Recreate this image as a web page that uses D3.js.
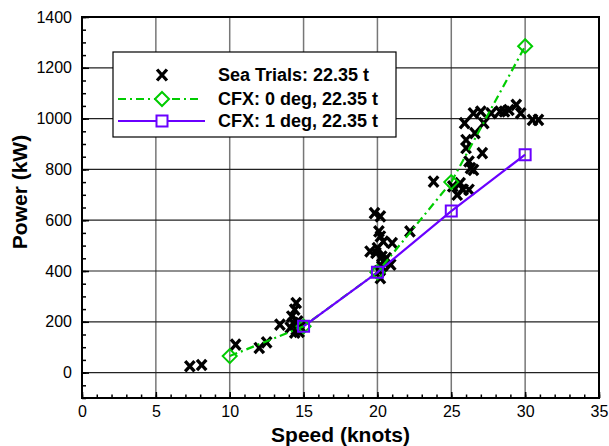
<!DOCTYPE html>
<html><head><meta charset="utf-8">
<script src="https://cdn.jsdelivr.net/npm/d3@7"></script>
<style>body{margin:0;background:#fff}svg{display:block;font-family:"Liberation Sans",Arial,sans-serif}</style>
</head><body><svg id="c" width="609" height="446"></svg>
<script>
const seaSpeed = [7.3,8.1,10.4,12.0,12.5,13.4,14.5,14.4,14.2,14.3,14.1,14.4,14.5,14.6,14.8,14.7,
  19.8,20.2,20.1,20.2,20.4,21.0,19.5,19.9,20.3,20.6,22.2,20.9,20.3,20.2,20.4,20.0,20.1,
  23.8,25.1,25.6,25.8,26.2,25.4,26.3,26.5,26.2,27.1,26.0,26.0,26.6,25.9,26.5,27.0,27.2,27.7,28.3,28.6,28.9,29.4,29.7,30.5,30.9];
const seaPower = [25,30,110,97,119,189,274,248,221,196,177,157,169,202,180,160,
  628,615,556,536,516,510,477,471,457,451,556,425,418,372,438,490,400,
  752,733,746,720,720,700,805,798,831,864,884,916,943,982,1021,1028,982,1021,1028,1028,1034,1054,1021,995,995];
const cfx0Speed = [10,15,20,25,30];
const cfx0Power = [65,182,395,750,1285];
const cfx1Speed = [15,20,25,30];
const cfx1Power = [182,395,636,858];
const xTicks = [0,5,10,15,20,25,30,35];
const yTicks = [0,200,400,600,800,1000,1200,1400];
const legendLabels = ["Sea Trials: 22.35 t","CFX: 0 deg, 22.35 t","CFX: 1 deg, 22.35 t"];

const svg = d3.select("#c");
const L=82,R=599,T=17,B=398;
const x = d3.scaleLinear().domain([0,35]).range([L,R]);
const y = d3.scaleLinear().domain([-100,1400]).range([B,T]);
const green="#00cc00", purple="#6a00ff";

// grid
svg.append("g").selectAll("line").data(xTicks.filter(v=>v>0&&v<35)).join("line")
  .attr("x1",d=>x(d)).attr("x2",d=>x(d)).attr("y1",T).attr("y2",B)
  .attr("stroke","#777").attr("stroke-width",1.5);
svg.append("g").selectAll("line").data(yTicks.filter(v=>v<1400)).join("line")
  .attr("x1",L).attr("x2",R).attr("y1",d=>y(d)).attr("y2",d=>y(d))
  .attr("stroke","#222").attr("stroke-width",1.2);

// axes
const xAxis = d3.axisBottom(x).tickValues(xTicks).tickSize(-6).tickPadding(8).tickFormat(d3.format("d"));
const xMinor = d3.axisBottom(x).tickValues(d3.range(0,36,1)).tickSize(-3.5).tickFormat("");
const yAxis = d3.axisLeft(y).tickValues(yTicks).tickSize(-7).tickPadding(10).tickFormat(d3.format("d"));
const yMinor = d3.axisLeft(y).tickValues(d3.range(-100,1401,50)).tickSize(-4).tickFormat("");
function style(g){g.select(".domain").remove();g.selectAll("line").attr("stroke","#000").attr("stroke-width",1.5);
  g.selectAll("text").attr("font-size",16).attr("fill","#000").attr("font-family","Liberation Sans, Arial, sans-serif");}
svg.append("g").attr("transform",`translate(0,${B})`).call(xMinor).call(style);
svg.append("g").attr("transform",`translate(0,${B})`).call(xAxis).call(style);
svg.append("g").attr("transform",`translate(${L},0)`).call(yMinor).call(style);
svg.append("g").attr("transform",`translate(${L},0)`).call(yAxis).call(style);
svg.append("rect").attr("x",L).attr("y",T).attr("width",R-L).attr("height",B-T)
  .attr("fill","none").attr("stroke","#000").attr("stroke-width",2);

// lines
const line = d3.line().x(d=>x(d[0])).y(d=>y(d[1]));
const cfx0 = cfx0Speed.map((s,i)=>[s,cfx0Power[i]]);
const cfx1 = cfx1Speed.map((s,i)=>[s,cfx1Power[i]]);
const sea = seaSpeed.map((s,i)=>[s,seaPower[i]]);
const xPath = (cx,cy,h)=>`M${cx-h*0.9},${cy-h}L${cx+h*0.9},${cy+h}M${cx+h*0.9},${cy-h}L${cx-h*0.9},${cy+h}`;
const diamond = (cx,cy,h)=>`M${cx},${cy-h}L${cx+h},${cy}L${cx},${cy+h}L${cx-h},${cy}Z`;
const square = (cx,cy,h)=>`M${cx-h},${cy-h}H${cx+h}V${cy+h}H${cx-h}Z`;

svg.append("g").selectAll("path").data(sea).join("path")
  .attr("d",d=>xPath(x(d[0]),y(d[1]),5.2)).attr("stroke","#000").attr("stroke-width",3.3).attr("fill","none");

svg.append("path").datum(cfx0).attr("d",line).attr("fill","none").attr("stroke",green)
  .attr("stroke-width",2.2).attr("stroke-dasharray","8,4,2,4");
svg.append("path").datum(cfx1).attr("d",line).attr("fill","none").attr("stroke",purple).attr("stroke-width",2.2);
svg.append("g").selectAll("path").data(cfx0).join("path")
  .attr("d",d=>diamond(x(d[0]),y(d[1]),7)).attr("fill","none").attr("stroke",green).attr("stroke-width",2);
svg.append("g").selectAll("path").data(cfx1).join("path")
  .attr("d",d=>square(x(d[0]),y(d[1]),5.5)).attr("fill","none").attr("stroke",purple).attr("stroke-width",2);

// legend
const lg = svg.append("g");
lg.append("rect").attr("x",113).attr("y",52).attr("width",283).attr("height",85)
  .attr("fill","#fff").attr("stroke","#000").attr("stroke-width",1.2);
const rows=[75,99,121];
lg.append("path").attr("d",xPath(162,rows[0],5.5)).attr("stroke","#000").attr("stroke-width",3.3).attr("fill","none");
lg.append("line").attr("x1",118).attr("x2",202).attr("y1",rows[1]).attr("y2",rows[1])
  .attr("stroke",green).attr("stroke-width",2.2).attr("stroke-dasharray","8,4,2,4");
lg.append("path").attr("d",diamond(162,rows[1],7)).attr("fill","#fff").attr("stroke",green).attr("stroke-width",2);
lg.append("line").attr("x1",118).attr("x2",205).attr("y1",rows[2]).attr("y2",rows[2])
  .attr("stroke",purple).attr("stroke-width",2.2);
lg.append("path").attr("d",square(162,rows[2],5.5)).attr("fill","#fff").attr("stroke",purple).attr("stroke-width",2);
lg.selectAll("text").data(legendLabels).join("text")
  .attr("x",218).attr("y",(d,i)=>rows[i]).attr("dy","0.35em")
  .attr("font-size",18).attr("font-weight","bold").text(d=>d);

// titles
svg.append("text").attr("x",(L+R)/2).attr("y",442).attr("text-anchor","middle")
  .attr("font-size",21).attr("font-weight","bold").text("Speed (knots)");
svg.append("text").attr("transform",`translate(27,192) rotate(-90)`).attr("text-anchor","middle")
  .attr("font-size",21).attr("font-weight","bold").text("Power (kW)");
</script></body></html>
